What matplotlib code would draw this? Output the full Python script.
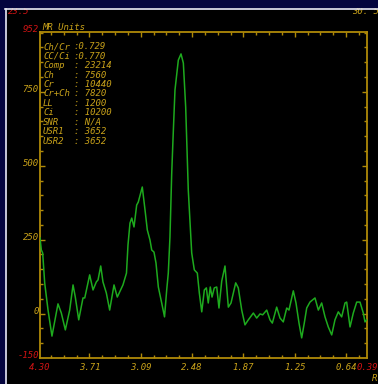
import numpy as np
import matplotlib
matplotlib.use('Agg')
import matplotlib.pyplot as plt
from matplotlib.patches import Rectangle
from matplotlib.lines import Line2D
from matplotlib.transforms import blended_transform_factory

# ---------------- data ----------------
ppm = [4.300, 4.284, 4.268, 4.244, 4.204, 4.157, 4.085, 4.045, 3.997, 3.945,
       3.905, 3.878, 3.837, 3.786, 3.765, 3.706, 3.666, 3.627, 3.606, 3.574,
       3.547, 3.507, 3.467, 3.415, 3.376, 3.308, 3.266, 3.248, 3.224, 3.203,
       3.176, 3.144, 3.125, 3.077, 3.044, 3.017, 2.985, 2.964, 2.937, 2.913,
       2.885, 2.845, 2.811, 2.785, 2.766, 2.746, 2.725, 2.710, 2.686, 2.646,
       2.614, 2.586, 2.558, 2.527, 2.486, 2.455, 2.419, 2.395, 2.366, 2.335,
       2.311, 2.288, 2.264, 2.243, 2.216, 2.187, 2.160, 2.127, 2.088, 2.048,
       2.016, 1.960, 1.929, 1.888, 1.849, 1.809, 1.749, 1.709, 1.669, 1.637,
       1.589, 1.550, 1.522, 1.470, 1.430, 1.391, 1.350, 1.323, 1.271, 1.239,
       1.203, 1.171, 1.140, 1.111, 1.072, 1.012, 0.972, 0.932, 0.892, 0.853,
       0.812, 0.773, 0.733, 0.693, 0.653, 0.633, 0.593, 0.554, 0.513, 0.474,
       0.434, 0.414, 0.394]
signal = [256, 215, 205, 104, 12, -76, 33, 2, -55, 12,
          97, 56, -21, 53, 53, 131, 80, 107, 114, 161,
          107, 70, 12, 97, 56, 97, 137, 232, 306, 323,
          293, 367, 377, 428, 350, 283, 249, 215, 208, 171,
          90, 36, -11, 80, 137, 259, 475, 587, 756, 857,
          878, 847, 698, 418, 205, 148, 137, 70, 6, 80,
          87, 36, 90, 56, 87, 90, 19, 110, 161, 22,
          36, 104, 87, 12, -38, -21, 2, -15, -1, -4,
          12, -21, -32, 22, -15, -28, 19, 12, 77, 36,
          -32, -82, -32, 19, 39, 53, 12, 36, -11, -45,
          -72, -21, 6, -11, 36, 39, -45, 2, 39, 39,
          2, -28, -21]

x_tick_labels = ['3.71', '3.09', '2.48', '1.87', '1.25', '0.64']
y_tick_labels = ['0', '250', '500', '750']
x_limits = (4.30, 0.39)
y_limits = (-150, 952)
y_unit_label = 'MR Units'
info_names = ['Ch/Cr', 'CC/Ci', 'Comp', 'Ch', 'Cr', 'Cr+Ch', 'LL', 'Ci',
              'SNR', 'USR1', 'USR2']
info_values = [':0.729', ':0.770', ': 23214', ': 7560', ': 10440', ': 7820',
               ': 1200', ': 10200', ': N/A', ': 3652', ': 3652']
corner_left = '23.5'
corner_right = '30. 5'

# ---------------- style ----------------
W, H = 378, 384
NAVY = '#04043e'
YEL = '#c9a21a'
AXC = '#b08a08'
RED = '#d01414'
GRN = '#1eaa1e'
FONT = dict(family='DejaVu Sans Mono', style='oblique', fontsize=6.5)


def fx(px):
    return px / W


def fy(py):
    return 1 - py / H


fig = plt.figure(figsize=(W / 100, H / 100), dpi=100, facecolor=NAVY)

# black panel and white frame line
fig.patches.append(Rectangle((fx(6.5), 0), 1 - fx(6.5), fy(9.5), transform=fig.transFigure,
                             facecolor='black', edgecolor='none', zorder=-5))

# clipped corner texts (drawn first, then covered by navy band)
fig.text(fx(8), fy(14), corner_left, color=RED, ha='left', va='baseline', zorder=1, **FONT)
fig.text(fx(352), fy(14), corner_right, color=YEL, ha='left', va='baseline', zorder=1, **FONT)
fig.patches.append(Rectangle((0, fy(8.0)), 1, 1 - fy(8.0), transform=fig.transFigure,
                             facecolor=NAVY, edgecolor='none', zorder=5))
fig.lines.append(Line2D([fx(5), 1], [fy(8.6), fy(8.6)], transform=fig.transFigure,
                        color='#e8e8f0', lw=1.2, zorder=6))
fig.lines.append(Line2D([fx(5.8), fx(5.8)], [0, fy(8.6)], transform=fig.transFigure,
                        color='#e8e8f0', lw=1.2, zorder=6))

ax = fig.add_axes([fx(40), fy(358), 327 / W, 326 / H])
ax.set_zorder(2)
ax.set_facecolor('black')
ax.plot(ppm, signal, color=GRN, lw=1.1, zorder=3)
ax.set_xlim(*x_limits)
ax.set_ylim(*y_limits)

# ticks
xmaj = np.array([float(t) for t in x_tick_labels])
xstep = (xmaj[0] - xmaj[-1]) / (len(xmaj) - 1) / 4
xminor = [xmaj[0] + k * xstep for k in range(-40, 40)
          if min(x_limits) < xmaj[0] + k * xstep < max(x_limits) and k % 4 != 0]
ymaj = [float(t) for t in y_tick_labels]
yminor = [v for v in np.arange(-150, 952, 50) if v not in ymaj and v > y_limits[0]]
ax.set_xticks(xmaj)
ax.set_xticks(xminor, minor=True)
ax.set_yticks(ymaj)
ax.set_yticks(yminor, minor=True)
ax.tick_params(which='both', direction='in', top=True, right=True, bottom=True, left=True,
               labelbottom=False, labelleft=False, color=AXC, width=1.0)
ax.tick_params(which='major', length=3.8)
ax.tick_params(which='minor', length=2.2)
for s in ax.spines.values():
    s.set_color(AXC)
    s.set_linewidth(1.3)

# y labels
ty = blended_transform_factory(ax.transAxes, ax.transData)
for lbl in y_tick_labels:
    ax.text(-0.004, float(lbl), lbl, transform=ty, color=YEL, ha='right', va='baseline',
            clip_on=False, **FONT)
ax.text(-0.004, y_limits[1], f'{y_limits[1]}', transform=ty, color=RED, ha='right',
        va='baseline', clip_on=False, **FONT)
ax.text(-0.004, y_limits[0], f'{y_limits[0]}', transform=ty, color=RED, ha='right',
        va='baseline', clip_on=False, **FONT)
ax.text(0.006, y_limits[1], y_unit_label, transform=ty, color=YEL, ha='left',
        va='bottom', clip_on=False, **FONT)

# x labels
tx = blended_transform_factory(ax.transData, ax.transAxes)
for lbl in x_tick_labels:
    ax.annotate(lbl, xy=(float(lbl), 0), xycoords=tx, xytext=(0, -3.5),
                textcoords='offset points', color=YEL, ha='center', va='top',
                annotation_clip=False, **FONT)
ax.annotate(f'{x_limits[0]:.2f}', xy=(x_limits[0], 0), xycoords=tx, xytext=(0, -3.5),
            textcoords='offset points', color=RED, ha='center', va='top',
            annotation_clip=False, **FONT)
ax.annotate(f'{x_limits[1]:.2f}', xy=(x_limits[1], 0), xycoords=tx, xytext=(0, -3.5),
            textcoords='offset points', color=RED, ha='center', va='top',
            annotation_clip=False, **FONT)
fig.text(fx(372), fy(381), 'R', color=YEL, ha='left', va='baseline', **FONT)

# info block
for i, (n, v) in enumerate(zip(info_names, info_values)):
    yy = 46.7 + i * 9.45
    fig.text(fx(43), fy(yy), n, color=YEL, ha='left', va='center', zorder=3, **FONT)
    fig.text(fx(73.5), fy(yy), v, color=YEL, ha='left', va='center', zorder=3, **FONT)

fig.savefig('out.png', dpi=100, facecolor=NAVY)
